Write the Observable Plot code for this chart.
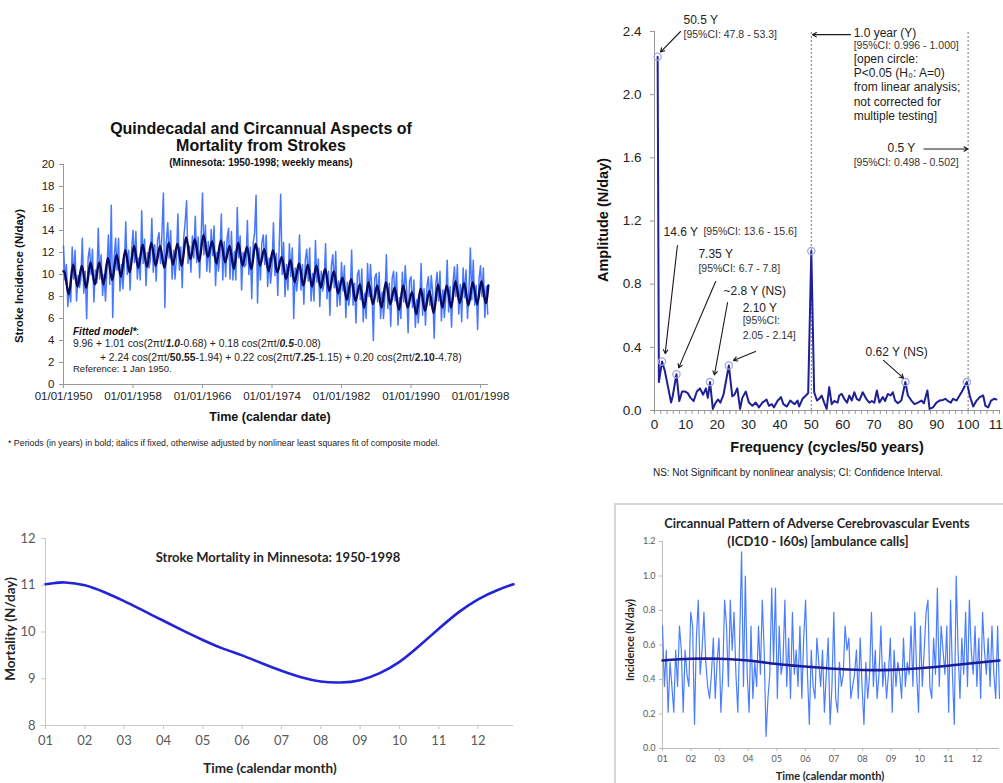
<!DOCTYPE html>
<html><head><meta charset="utf-8">
<script src="https://cdn.jsdelivr.net/npm/d3@7"></script>
<script src="https://cdn.jsdelivr.net/npm/@observablehq/plot@0.6"></script>
<style>
html,body{margin:0;padding:0;background:#fff;}
#root{position:relative;width:1003px;height:783px;overflow:hidden;background:#fff;}
.lbl{position:absolute;white-space:nowrap;line-height:1;color:#111;}
.panel{position:absolute;}
.panel svg{overflow:visible;display:block;}
</style></head><body><div id="root"></div>
<script>
const FA = "'Liberation Sans', Arial, sans-serif";
const FC = "Lato, 'Open Sans', sans-serif";

// ---------- Panel A: weekly stroke incidence, Minnesota 1950-1998 ----------
const weeklyStart = 1950;
const weeklyPerYear = 6;   // samples per year kept from the weekly series
const weeklyMeans = [
12.6,9.5,10.9,7.1,8.8,7.5, 12.5,9.6,12.2,7.6,9.9,8.8, 9.6,13.3,8.3,10.3,6.0,11.5, 12.4,10.0,12.3,7.5,10.4,9.2,
14.2,9.6,11.8,8.1,10.0,7.6, 10.4,13.6,9.1,16.3,6.1,11.5, 13.3,10.4,13.3,8.5,10.9,8.7, 10.8,14.8,10.0,12.2,8.6,12.1,
14.0,11.1,13.9,9.6,11.5,9.5, 15.8,11.0,13.2,9.0,12.0,10.6, 11.3,15.1,10.2,12.7,9.4,13.2, 13.8,11.0,13.8,17.4,7.0,12.9,
14.7,11.5,14.0,9.6,12.2,9.6, 11.5,15.5,10.4,12.5,8.8,13.3, 14.7,16.7,11.0,12.6,10.2,13.5, 11.5,15.3,11.1,13.4,9.7,13.2,
17.4,11.8,14.5,10.3,13.0,10.2, 14.1,11.7,14.4,9.0,12.0,10.3, 11.7,15.5,9.5,13.0,9.8,13.3, 14.2,9.6,13.9,9.5,12.1,9.5,
16.1,11.5,13.5,8.6,12.0,10.7, 10.9,14.9,10.0,12.5,7.8,12.8, 13.8,17.2,7.4,12.4,9.5,12.9, 13.6,10.9,13.6,8.9,11.5,9.2,
10.7,14.7,9.9,11.9,8.1,12.7, 17.3,10.0,12.9,8.0,10.9,8.6, 12.8,9.8,12.4,6.0,10.6,8.5, 9.7,13.6,8.6,10.9,7.3,11.3,
12.3,9.4,12.4,7.6,10.1,7.6, 13.1,9.3,11.4,7.1,10.3,8.5, 9.3,12.8,7.8,10.3,6.3,10.8, 11.8,8.8,12.1,7.1,9.4,7.2,
11.1,8.5,10.8,6.1,9.3,7.2, 8.2,12.2,7.2,9.2,5.6,10.0, 10.4,7.7,10.5,5.7,8.3,6.0, 11.0,8.0,10.9,8.6,4.0,9.7,
10.1,7.5,10.2,6.0,8.4,6.0, 8.0,11.8,6.9,9.2,5.3,9.7, 10.3,7.6,10.2,5.4,7.9,6.0, 10.2,7.5,10.8,8.6,4.7,9.4,
9.8,7.0,9.5,5.2,7.7,5.6, 7.4,11.0,6.3,8.7,5.4,8.9, 9.8,7.2,9.9,8.3,4.2,8.9, 10.2,7.6,10.3,5.8,8.6,6.1,
7.8,11.3,6.6,8.9,5.2,9.2, 10.7,8.0,10.9,6.4,9.1,5.7, 10.6,7.9,10.4,6.0,8.5,12.4, 7.7,11.3,7.2,9.0,5.0,9.6,
10.8,8.0,10.6,6.1,8.9,6.4
];
// fitted composite model, read as yearly winter peaks and summer troughs
const fitStart = 10.3, fitEnd = 9.0, fitEndTime = 1998.9;
const fitPeakPhase = 0.11, fitTroughPhase = 0.61;
const fitPeaks = [10.2,10.9,10.8,11.1,11.1,11.5,11.8,12.2,12.6,12.7,12.9,12.6,12.9,12.8,13.4,13.2,13.6,13.0,13.1,12.6,12.9,12.5,12.8,12.3,12.2,11.6,11.3,11.0,10.9,10.8,10.5,10.3,9.7,9.6,9.1,9.3,9.0,9.3,8.8,9.0,8.4,8.7,8.5,9.1,9.0,9.4,9.2,9.3,9.4];
const fitTroughs = [8.2,8.9,8.8,9.1,9.1,9.5,9.8,10.2,10.6,10.7,10.8,10.6,10.9,10.8,11.4,11.2,11.6,11.0,11.1,10.5,10.8,10.5,10.8,10.3,10.2,9.6,9.3,9.0,8.9,8.8,8.5,8.3,7.7,7.6,7.0,7.3,7.0,7.3,6.8,7.0,6.4,6.7,6.5,7.0,7.0,7.4,7.2,7.3,7.4];
const dateTicks = [1950,1958,1966,1974,1982,1990,1998];
const incidenceTicks = [0,2,4,6,8,10,12,14,16,18,20];

// ---------- Panel B: amplitude spectrum ----------
const specFreq = [1.0,1.4,2.4,3.3,4.3,5.3,5.8,7.0,7.9,8.8,9.8,10.6,11.5,12.5,13.5,14.5,15.5,16.4,17.0,17.7,18.6,19.5,20.3,21.0,22.0,23.7,24.8,25.5,26.4,27.3,28.0,29.1,30.1,31.2,32.3,33.3,34.4,35.7,36.5,37.4,38.1,39.2,40.3,41.1,42.2,43.3,44.0,44.7,45.6,46.1,47.2,48.3,49.0,50.0,50.9,51.8,52.5,53.3,54.1,54.9,55.7,56.5,57.3,58.4,58.9,59.7,60.5,61.4,62.1,62.9,63.7,64.5,65.3,66.4,67.5,68.5,69.3,70.1,70.9,71.7,72.8,73.5,74.4,75.3,76.0,76.7,77.6,78.7,80.0,80.8,81.9,82.9,84.0,85.1,85.9,87.0,87.7,88.8,89.9,90.9,92.0,92.7,93.6,94.5,95.2,96.3,97.9,99.6,100.5,101.6,102.7,103.7,104.8,105.5,106.4,107.3,108.3,109.0];
const specAmp = [2.24,0.18,0.31,0.25,0.15,0.05,0.09,0.23,0.06,0.12,0.12,0.11,0.08,0.06,0.12,0.14,0.10,0.14,0.08,0.18,0.01,0.05,0.07,0.05,0.10,0.285,0.09,0.10,0.14,0.01,0.08,0.12,0.05,0.03,0.05,0.02,0.05,0.07,0.03,0.04,0.02,0.06,0.085,0.04,0.025,0.063,0.05,0.04,0.063,0.025,0.074,0.095,0.11,1.01,0.116,0.063,0.074,0.095,0.05,0.01,0.148,0.04,0.06,0.05,0.095,0.105,0.074,0.05,0.095,0.063,0.116,0.074,0.063,0.116,0.074,0.05,0.06,0.05,0.127,0.05,0.085,0.06,0.105,0.095,0.116,0.063,0.046,0.063,0.18,0.095,0.063,0.04,0.05,0.063,0.046,0.127,0.01,0.02,0.05,0.063,0.067,0.074,0.06,0.05,0.074,0.063,0.116,0.18,0.095,0.025,0.063,0.085,0.095,0.03,0.02,0.063,0.074,0.07];
const sigFreq = [1.0,2.4,7.0,17.7,23.7,50.0,80.0,99.6];
const sigAmp = [2.24,0.31,0.23,0.18,0.285,1.01,0.18,0.18];
const periodLines = [50, 100];
const freqTicks = d3.range(0, 111, 2);
const ampTicks = [0, 0.4, 0.8, 1.2, 1.6, 2.0, 2.4];
const noteMain = [
  {f: 9.25, a: 2.47, t: "50.5 Y"},
  {f: 63.5, a: 2.39, t: "1.0 year (Y)"},
  {f: 63.5, a: 2.225, t: "[open circle:"},
  {f: 63.5, a: 2.135, t: "P<0.05 (H\u2080: A=0)"},
  {f: 63.5, a: 2.045, t: "from linear analysis;"},
  {f: 63.5, a: 1.955, t: "not corrected for"},
  {f: 63.5, a: 1.865, t: "multiple testing]"},
  {f: 74.3, a: 1.66, t: "0.5 Y"},
  {f: 2.9, a: 1.13, t: "14.6 Y"},
  {f: 14.0, a: 0.99, t: "7.35 Y"},
  {f: 22.0, a: 0.754, t: "~2.8 Y (NS)"},
  {f: 28.1, a: 0.646, t: "2.10 Y"},
  {f: 67.3, a: 0.367, t: "0.62 Y (NS)"}
];
const noteCI = [
  {f: 9.25, a: 2.38, t: "[95%CI: 47.8 - 53.3]"},
  {f: 63.5, a: 2.31, t: "[95%CI: 0.996 - 1.000]"},
  {f: 63.5, a: 1.57, t: "[95%CI: 0.498 - 0.502]"},
  {f: 15.6, a: 1.13, t: "[95%CI: 13.6 - 15.6]"},
  {f: 14.0, a: 0.90, t: "[95%CI: 6.7 - 7.8]"},
  {f: 28.1, a: 0.57, t: "[95%CI:"},
  {f: 28.1, a: 0.475, t: "2.05 - 2.14]"}
];
const noteArrows = [
  {x1: 8.3, y1: 2.40, x2: 1.9, y2: 2.27},
  {x1: 62.5, y1: 2.38, x2: 50.4, y2: 2.38},
  {x1: 85.9, y1: 1.656, x2: 99.9, y2: 1.656},
  {x1: 7.3, y1: 1.045, x2: 3.4, y2: 0.36},
  {x1: 19.5, y1: 0.817, x2: 7.7, y2: 0.27},
  {x1: 23.3, y1: 0.684, x2: 19.1, y2: 0.225},
  {x1: 32.2, y1: 0.374, x2: 25.2, y2: 0.317},
  {x1: 73.0, y1: 0.317, x2: 79.4, y2: 0.205}
];

// ---------- Panel C: circannual stroke mortality ----------
const mortMonth = [1,1.25,1.5,2,2.5,3,3.5,4,4.5,5,5.5,6,6.5,7,7.5,8,8.5,9,9.5,10,10.5,11,11.5,12,12.5,12.9];
const mortValue = [11.02,11.05,11.06,11.0,10.85,10.66,10.45,10.24,10.03,9.83,9.65,9.5,9.33,9.17,9.03,8.94,8.92,8.97,9.12,9.36,9.7,10.07,10.42,10.7,10.9,11.02];
const monthTicks = [1,2,3,4,5,6,7,8,9,10,11,12];
const mortTicks = [8,9,10,11,12];

// ---------- Panel D: ambulance calls ----------
const ambFirst = 1, ambLast = 12.79;   // calendar-month span of the series
const ambulance = [
.71,.36,.57,.21,.50,.36,.21,.57,.36,.71,.57,.21,.57,.43,.36,
.79,.71,.14,.64,.86,.43,.57,.79,.50,.36,.29,.43,.64,.29,.50,
.64,.21,.43,.86,.71,.36,.86,.57,.79,.43,.21,.64,1.14,.36,1.00,
.43,.21,.71,.29,.50,.36,.71,.43,.86,.57,.07,.29,.43,.93,.50,
.93,.29,.71,.43,.50,.86,.36,.64,.29,.79,.43,.57,.36,.71,.29,
.64,.86,.43,.14,.57,.36,.29,.64,.50,.36,.57,.21,.43,.64,.14,
.36,.79,.29,.21,.50,.36,.43,.71,.57,.64,.29,.36,.43,.57,.29,
.64,.36,.14,.50,.29,.43,.79,.36,.57,.29,.43,.71,.36,.50,.29,
.43,.64,.21,.57,.36,.50,.43,.29,.64,.36,.50,.43,.71,.36,.79,
.43,.21,.71,.36,.57,.79,.86,.36,.29,.64,.43,.93,.36,.71,.57,
.43,.71,.21,.86,.43,.14,1.00,.57,.29,.64,.43,.79,.36,.86,.57,
.43,.71,.36,.64,.29,.79,.57,.43,.64,.36,.71,.43,.29,.71,.29
];
const ambSmoothMonth = [1,2,3,4,5,6,7,8,9,10,11,12,12.79];
const ambSmoothValue = [0.51,0.52,0.52,0.51,0.49,0.475,0.462,0.455,0.456,0.465,0.48,0.497,0.51];
const ambTicks = [0,0.2,0.4,0.6,0.8,1.0,1.2];

// ---------- build tables ----------
const weeklyData = weeklyMeans.map((v, i) => ({t: weeklyStart + i / weeklyPerYear, v}));
const fitData = [{t: weeklyStart, v: fitStart}];
fitPeaks.forEach((p, i) => {
  fitData.push({t: weeklyStart + i + fitPeakPhase, v: p});
  fitData.push({t: weeklyStart + i + fitTroughPhase, v: fitTroughs[i]});
});
fitData.push({t: fitEndTime, v: fitEnd});
const specData = specFreq.map((f, i) => ({f, a: specAmp[i]}));
const sigData = sigFreq.map((f, i) => ({f, a: sigAmp[i]}));
const mortData = mortMonth.map((m, i) => ({m, v: mortValue[i]}));
const ambStep = (ambLast - ambFirst) / (ambulance.length - 1);
const ambData = ambulance.map((v, i) => ({m: ambFirst + i * ambStep, v}));
const ambSmooth = ambSmoothMonth.map((m, i) => ({m, v: ambSmoothValue[i]}));
const pad2 = d => String(d).padStart(2, "0");

const root = document.getElementById("root");
function place(el, left, top) {
  const d = document.createElement("div");
  d.className = "panel"; d.style.left = left + "px"; d.style.top = top + "px";
  d.appendChild(el); root.appendChild(d); return d;
}
function label(html, x, y, o = {}) {
  const d = document.createElement("div");
  d.className = "lbl"; d.innerHTML = html;
  const a = o.anchor || "middle";
  const tx = a === "start" ? "0" : a === "end" ? "-100%" : "-50%";
  d.style.left = x + "px"; d.style.top = y + "px";
  d.style.transform = `translate(${tx},-50%)` + (o.rotate ? ` rotate(${o.rotate}deg)` : "");
  d.style.font = `${o.style || "normal"} ${o.weight || "normal"} ${o.size || 10}px ${o.family || FA}`;
  if (o.color) d.style.color = o.color;
  root.appendChild(d); return d;
}

// ---------- Panel A ----------
const plotA = Plot.plot({
  width: 530, height: 280, marginLeft: 63, marginRight: 42, marginTop: 14, marginBottom: 46,
  style: {fontFamily: FA, fontSize: "11.5px", color: "#222", background: "transparent", overflow: "visible"},
  x: {domain: [1950, 1998.92]},
  y: {domain: [0, 20]},
  marks: [
    Plot.ruleY([0], {stroke: "#999"}),
    Plot.ruleX([1950], {stroke: "#999"}),
    Plot.line(weeklyData, {x: "t", y: "v", stroke: "#3468ff", strokeWidth: 1.5, strokeOpacity: 0.9}),
    Plot.line(fitData, {x: "t", y: "v", stroke: "#0a0a5e", strokeWidth: 2.4, curve: "monotone-x"}),
    Plot.axisX({ticks: dateTicks, tickFormat: d => "01/01/" + d, tickSize: 4, tickPadding: 3, stroke: "#999", fill: "#222", label: null}),
    Plot.axisY({ticks: incidenceTicks, tickFormat: d => String(d), tickSize: 4, tickPadding: 5, stroke: "#999", fill: "#222", label: null})
  ]
});
place(plotA, 0, 150);
label("Quindecadal and Circannual Aspects of", 261, 129, {weight: "bold", size: 16});
label("Mortality from Strokes", 261, 146, {weight: "bold", size: 16});
label("(Minnesota: 1950-1998; weekly means)", 261, 161.5, {weight: "bold", size: 10});
label("Stroke Incidence (N/day)", 19, 276, {weight: "bold", size: 11.5, rotate: -90});
label("Time (calendar date)", 270, 417, {weight: "bold", size: 12.5});
label("<b><i>Fitted model*</i></b>:", 73, 331, {anchor: "start", size: 10});
label("9.96 + 1.01 cos(2\u03c0t/<b><i>1.0</i></b>-0.68) + 0.18 cos(2\u03c0t/<b><i>0.5</i></b>-0.08)", 73, 343, {anchor: "start", size: 10.3, color: "#222"});
label("+ 2.24 cos(2\u03c0t/<b>50.55</b>-1.94) + 0.22 cos(2\u03c0t/<b>7.25</b>-1.15) + 0.20 cos(2\u03c0t/<b>2.10</b>-4.78)", 100, 356.5, {anchor: "start", size: 10.3, color: "#222"});
label("Reference: 1 Jan 1950.", 73, 367.5, {anchor: "start", size: 9.5, color: "#222"});
label("* Periods (in years) in bold; italics if fixed, otherwise adjusted by nonlinear least squares fit of composite model.", 8, 443, {anchor: "start", size: 8.8, color: "#222"});

// ---------- Panel B ----------
const plotB = Plot.plot({
  width: 413, height: 460, marginLeft: 64, marginRight: 4, marginTop: 31, marginBottom: 50,
  style: {fontFamily: FA, fontSize: "13px", color: "#222", background: "transparent", overflow: "visible"},
  x: {domain: [0, 110]},
  y: {domain: [0, 2.4]},
  marks: [
    Plot.ruleX(periodLines, {y1: 0, y2: 2.4, stroke: "#777", strokeDasharray: "2,2"}),
    Plot.ruleX([0], {y1: 0, y2: 2.4, stroke: "#999"}),
    Plot.ruleY([0], {stroke: "#999"}),
    Plot.line(specData, {x: "f", y: "a", stroke: "#1f1f96", strokeWidth: 2}),
    Plot.dot(sigData, {x: "f", y: "a", r: 3.6, stroke: "#a5a5e4", strokeWidth: 1.3, fill: "none"}),
    Plot.arrow(noteArrows, {x1: "x1", y1: "y1", x2: "x2", y2: "y2", stroke: "#1a1a1a", strokeWidth: 1.1, headLength: 6}),
    Plot.text(noteMain, {x: "f", y: "a", text: "t", textAnchor: "start", fontSize: 12, fill: "#222"}),
    Plot.text(noteCI, {x: "f", y: "a", text: "t", textAnchor: "start", fontSize: 10.5, fill: "#333"}),
    Plot.axisX({ticks: freqTicks, tickFormat: d => d % 10 === 0 ? String(d) : "", tickSize: 4, tickPadding: 5, stroke: "#999", fill: "#222", fontSize: 13.5, label: null}),
    Plot.axisY({ticks: ampTicks, tickFormat: d3.format(".1f"), tickSize: 4, tickPadding: 9, stroke: "#999", fill: "#222", fontSize: 13.5, label: null})
  ]
});
place(plotB, 590, 0);
label("Amplitude (N/day)", 603, 220, {weight: "bold", size: 14.5, rotate: -90});
label("Frequency (cycles/50 years)", 827, 447, {weight: "bold", size: 14.5});
label("NS: Not Significant by nonlinear analysis; CI: Confidence Interval.", 798, 471.5, {size: 10, color: "#222"});

// ---------- Panel C ----------
const plotC = Plot.plot({
  width: 540, height: 263, marginLeft: 45, marginRight: 27, marginTop: 18, marginBottom: 58,
  style: {fontFamily: FC, fontSize: "13px", color: "#595959", background: "transparent", overflow: "visible"},
  x: {domain: [1, 12.9]},
  y: {domain: [8, 12]},
  marks: [
    Plot.ruleY([8], {stroke: "#c8c8c8"}),
    Plot.ruleX([1], {stroke: "#c8c8c8"}),
    Plot.line(mortData, {x: "m", y: "v", stroke: "#2323d8", strokeWidth: 2.6, curve: "natural"}),
    Plot.axisX({ticks: monthTicks, tickFormat: pad2, tickSize: 4, tickPadding: 6, stroke: "#c8c8c8", fill: "#595959", label: null}),
    Plot.axisY({ticks: mortTicks, tickFormat: d => String(d), tickSize: 4, tickPadding: 6, stroke: "#c8c8c8", fill: "#595959", label: null})
  ]
});
place(plotC, 0, 520);
label("Stroke Mortality in Minnesota: 1950-1998", 278, 557, {weight: "bold", size: 13, family: FC, color: "#262626"});
label("Mortality (N/day)", 10, 629, {weight: "bold", size: 13.5, family: FC, rotate: -90, color: "#262626"});
label("Time (calendar month)", 270, 768, {weight: "bold", size: 13.5, family: FC, color: "#262626"});

// ---------- Panel D ----------
const frameD = document.createElement("div");
frameD.style.cssText = "position:absolute;left:614px;top:503px;width:400px;height:290px;border-left:2px solid #d6d6d6;border-top:2px solid #d6d6d6;";
root.appendChild(frameD);
const plotD = Plot.plot({
  width: 403, height: 283, marginLeft: 62, marginRight: 4, marginTop: 41, marginBottom: 35,
  style: {fontFamily: FC, fontSize: "9px", color: "#595959", background: "transparent", overflow: "visible"},
  x: {domain: [1, 12.79]},
  y: {domain: [0, 1.2]},
  marks: [
    Plot.ruleY([0], {stroke: "#bbb"}),
    Plot.ruleX([1], {stroke: "#bbb"}),
    Plot.line(ambData, {x: "m", y: "v", stroke: "#4a7dff", strokeWidth: 1.2}),
    Plot.line(ambSmooth, {x: "m", y: "v", stroke: "#1c1c96", strokeWidth: 2.6, curve: "natural"}),
    Plot.axisX({ticks: monthTicks, tickFormat: pad2, tickSize: 3, tickPadding: 4, stroke: "#bbb", fill: "#595959", label: null}),
    Plot.axisY({ticks: ambTicks, tickFormat: d3.format(".1f"), tickSize: 3, tickPadding: 4, stroke: "#bbb", fill: "#595959", label: null})
  ]
});
place(plotD, 600, 500);
label("Circannual Pattern of Adverse Cerebrovascular Events", 817, 522.5, {weight: "bold", size: 12.8, family: FC, color: "#262626"});
label("(ICD10 - I60s) [ambulance calls]", 818, 540.5, {weight: "bold", size: 13, family: FC, color: "#262626"});
label("Incidence (N/day)", 630, 640, {weight: "bold", size: 10.5, family: FC, rotate: -90, color: "#262626"});
label("Time (calendar month)", 830, 775, {weight: "bold", size: 11, family: FC, color: "#262626"});
</script></body></html>
